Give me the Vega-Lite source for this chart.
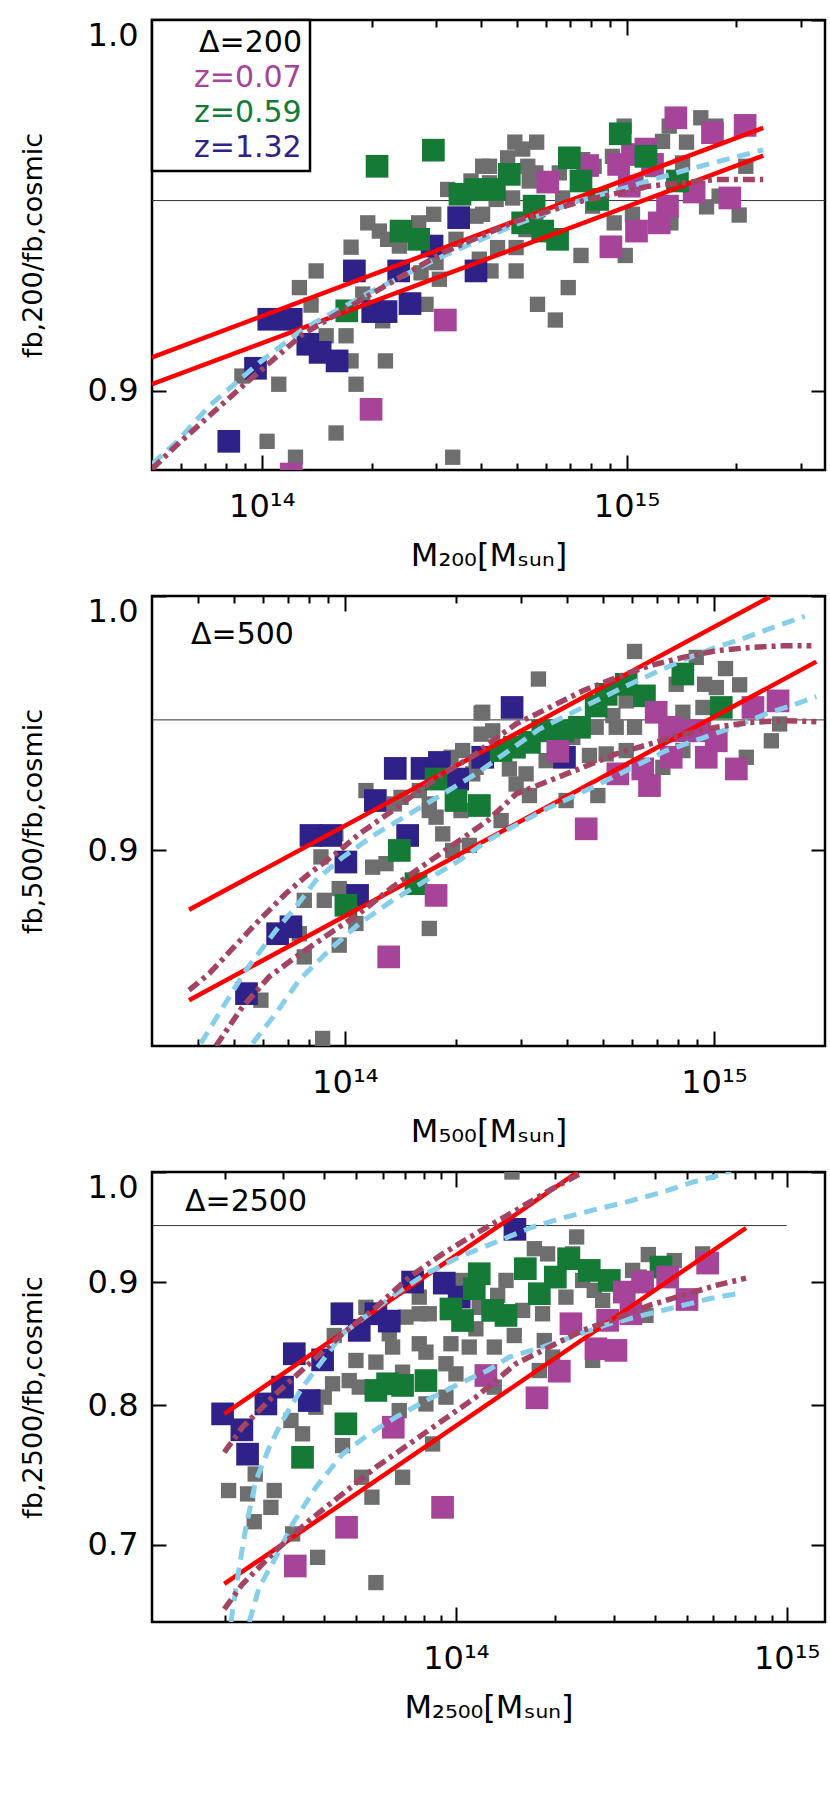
{
  "$schema": "https://vega.github.io/schema/vega-lite/v6.json",
  "background": "white",
  "padding": {"left": 17, "top": 17, "right": 2, "bottom": 2},
  "bounds": "flush",
  "spacing": 126,
  "resolve": {"scale": {"color": "independent"}, "legend": {"color": "independent"}},
  "config": {
    "view": {"stroke": "black", "strokeWidth": 2.5},
    "font": "DejaVu Sans",
    "legend": {"strokeWidth": 2.5},
    "axis": {"grid": false, "domain": false, "tickColor": "black", "tickWidth": 2, "labelColor": "black", "titleColor": "black", "labelFont": "DejaVu Sans", "titleFont": "DejaVu Sans", "titleFontWeight": "normal", "labelFontSize": 32, "titleFontSize": 32, "labelOverlap": false}
  },
  "datasets": {
    "p1": [
      {"M":1.757e14,"f":0.9375,"g":"sim"},{"M":1.409e14,"f":0.9312,"g":"sim"},{"M":1.268e14,"f":0.9268,"g":"sim"},{"M":1.365e14,"f":0.9222,"g":"sim"},{"M":1.113e14,"f":0.9017,"g":"sim"},{"M":8.82e13,"f":0.9038,"g":"sim"},{"M":1.034e14,"f":0.8872,"g":"sim"},{"M":1.237e14,"f":0.8832,"g":"sim"},{"M":1.598e14,"f":0.8893,"g":"sim"},{"M":1.813e14,"f":0.9017,"g":"sim"},{"M":2.182e14,"f":0.9077,"g":"sim"},{"M":1.757e14,"f":0.9077,"g":"sim"},{"M":1.501e14,"f":0.9142,"g":"sim"},{"M":1.702e14,"f":0.9142,"g":"sim"},{"M":1.952e14,"f":0.944,"g":"sim"},{"M":2.101e14,"f":0.9418,"g":"sim"},{"M":2.214e14,"f":0.9396,"g":"sim"},{"M":2.383e14,"f":0.9378,"g":"sim"},{"M":2.692e14,"f":0.944,"g":"sim"},{"M":2.96e14,"f":0.9463,"g":"sim"},{"M":3.233e14,"f":0.953,"g":"sim"},{"M":3.746e14,"f":0.9553,"g":"sim"},{"M":4.032e14,"f":0.9593,"g":"sim"},{"M":3.866e14,"f":0.9458,"g":"sim"},{"M":3.337e14,"f":0.8832,"g":"sim"},{"M":2.82e14,"f":0.9224,"g":"sim"},{"M":2.145e14,"f":0.9181,"g":"sim"},{"M":1.891e14,"f":0.9251,"g":"sim"},{"M":2.733e14,"f":0.9307,"g":"sim"},{"M":3.004e14,"f":0.9334,"g":"sim"},{"M":3.068e14,"f":0.929,"g":"sim"},{"M":3.407e14,"f":0.9396,"g":"sim"},{"M":3.948e14,"f":0.9343,"g":"sim"},
      {"M":4.94e14,"f":0.9659,"g":"sim"},{"M":5.67e14,"f":0.9659,"g":"sim"},{"M":5.19e14,"f":0.964,"g":"sim"},{"M":4.72e14,"f":0.9616,"g":"sim"},{"M":4.21e14,"f":0.9593,"g":"sim"},{"M":5.36e14,"f":0.9593,"g":"sim"},{"M":5.64e14,"f":0.9575,"g":"sim"},{"M":5.41e14,"f":0.9553,"g":"sim"},{"M":4.21e14,"f":0.9548,"g":"sim"},{"M":4.87e14,"f":0.9507,"g":"sim"},{"M":4.39e14,"f":0.9503,"g":"sim"},{"M":4.03e14,"f":0.9463,"g":"sim"},{"M":6.54e14,"f":0.9575,"g":"sim"},{"M":7.58e14,"f":0.9611,"g":"sim"},{"M":8.15e14,"f":0.9593,"g":"sim"},{"M":9.85e14,"f":0.9703,"g":"sim"},{"M":9.15e14,"f":0.962,"g":"sim"},{"M":1.255e15,"f":0.9661,"g":"sim"},{"M":1.309e15,"f":0.9703,"g":"sim"},{"M":1.46e15,"f":0.9659,"g":"sim"},{"M":1.598e15,"f":0.9726,"g":"sim"},{"M":1.757e15,"f":0.9703,"g":"sim"},{"M":1.178e15,"f":0.9584,"g":"sim"},{"M":1.424e15,"f":0.9602,"g":"sim"},{"M":1.061e15,"f":0.9548,"g":"sim"},{"M":1.657e15,"f":0.9483,"g":"sim"},{"M":2.036e15,"f":0.9461,"g":"sim"},{"M":2.123e15,"f":0.9593,"g":"sim"},{"M":1.794e15,"f":0.9512,"g":"sim"},{"M":9.25e14,"f":0.944,"g":"sim"},{"M":1.038e15,"f":0.9463,"g":"sim"},{"M":1.323e15,"f":0.944,"g":"sim"},{"M":9.92e14,"f":0.9353,"g":"sim"},{"M":7.5e14,"f":0.9353,"g":"sim"},{"M":4.43e14,"f":0.9374,"g":"sim"},{"M":4.98e14,"f":0.9374,"g":"sim"},{"M":4.25e14,"f":0.9312,"g":"sim"},{"M":4.98e14,"f":0.9312,"g":"sim"},{"M":6.92e14,"f":0.9268,"g":"sim"},{"M":5.7e14,"f":0.9224,"g":"sim"},{"M":6.38e14,"f":0.9183,"g":"sim"},{"M":8.07e14,"f":0.9485,"g":"sim"},{"M":6.68e14,"f":0.9507,"g":"sim"},{"M":5.3e14,"f":0.9422,"g":"sim"},{"M":5.64e14,"f":0.9449,"g":"sim"},
      {"M":1.045e14,"f":0.9185,"g":"z=1.32"},{"M":1.204e14,"f":0.9185,"g":"z=1.32"},{"M":9.61e13,"f":0.9058,"g":"z=1.32"},{"M":8.12e13,"f":0.8872,"g":"z=1.32"},{"M":1.337e14,"f":0.912,"g":"z=1.32"},{"M":1.445e14,"f":0.9099,"g":"z=1.32"},{"M":1.608e14,"f":0.9077,"g":"z=1.32"},{"M":1.794e14,"f":0.9312,"g":"z=1.32"},{"M":2.014e14,"f":0.9205,"g":"z=1.32"},{"M":2.191e14,"f":0.9205,"g":"z=1.32"},{"M":2.549e14,"f":0.9226,"g":"z=1.32"},{"M":2.373e14,"f":0.9312,"g":"z=1.32"},{"M":2.929e14,"f":0.9378,"g":"z=1.32"},{"M":3.465e14,"f":0.9454,"g":"z=1.32"},{"M":3.866e14,"f":0.9312,"g":"z=1.32"},
      {"M":3.186e14,"f":0.9183,"g":"z=0.07"},{"M":1.993e14,"f":0.8953,"g":"z=0.07"},{"M":1.204e14,"f":0.879,"g":"z=0.07"},{"M":1.365e15,"f":0.9726,"g":"z=0.07"},{"M":1.72e15,"f":0.9685,"g":"z=0.07"},{"M":2.114e15,"f":0.9705,"g":"z=0.07"},{"M":6.08e14,"f":0.955,"g":"z=0.07"},{"M":7.82e14,"f":0.9595,"g":"z=0.07"},{"M":9.51e14,"f":0.9598,"g":"z=0.07"},{"M":1.038e15,"f":0.9625,"g":"z=0.07"},{"M":1.13e15,"f":0.964,"g":"z=0.07"},{"M":1.178e15,"f":0.9598,"g":"z=0.07"},{"M":1.017e15,"f":0.9539,"g":"z=0.07"},{"M":1.532e15,"f":0.9523,"g":"z=0.07"},{"M":1.919e15,"f":0.9507,"g":"z=0.07"},{"M":1.295e15,"f":0.9485,"g":"z=0.07"},{"M":1.229e15,"f":0.944,"g":"z=0.07"},{"M":1.065e15,"f":0.9418,"g":"z=0.07"},{"M":9.06e14,"f":0.9376,"g":"z=0.07"},
      {"M":2.07e14,"f":0.9593,"g":"z=0.59"},{"M":2.954e14,"f":0.9637,"g":"z=0.59"},{"M":3.494e14,"f":0.9517,"g":"z=0.59"},{"M":3.866e14,"f":0.953,"g":"z=0.59"},{"M":2.408e14,"f":0.9418,"g":"z=0.59"},{"M":2.692e14,"f":0.9396,"g":"z=0.59"},{"M":1.71e14,"f":0.9207,"g":"z=0.59"},{"M":4.77e14,"f":0.9571,"g":"z=0.59"},{"M":4.34e14,"f":0.953,"g":"z=0.59"},{"M":6.97e14,"f":0.9616,"g":"z=0.59"},{"M":7.5e14,"f":0.9553,"g":"z=0.59"},{"M":9.61e14,"f":0.9682,"g":"z=0.59"},{"M":5.58e14,"f":0.9485,"g":"z=0.59"},{"M":5.19e14,"f":0.944,"g":"z=0.59"},{"M":5.89e14,"f":0.9418,"g":"z=0.59"},{"M":6.47e14,"f":0.9396,"g":"z=0.59"},{"M":8.33e14,"f":0.9503,"g":"z=0.59"},{"M":1.379e15,"f":0.9553,"g":"z=0.59"},{"M":1.13e15,"f":0.962,"g":"z=0.59"}
    ],
    "l1": [
      {"M":5.0e13,"f":0.9086,"k":"r","c":"a"},{"M":2.37e15,"f":0.9698,"k":"r","c":"a"},
      {"M":5.0e13,"f":0.9017,"k":"r","c":"b"},{"M":2.37e15,"f":0.9622,"k":"r","c":"b"},
      {"M":5.0e13,"f":0.8815,"k":"b","c":"a"},{"M":5.82e13,"f":0.8869,"k":"b","c":"a"},{"M":7.19e13,"f":0.8962,"k":"b","c":"a"},{"M":9.86e13,"f":0.9073,"k":"b","c":"a"},{"M":1.295e14,"f":0.9159,"k":"b","c":"a"},{"M":1.972e14,"f":0.9255,"k":"b","c":"a"},{"M":3.13e14,"f":0.9351,"k":"b","c":"a"},{"M":4.98e14,"f":0.9436,"k":"b","c":"a"},{"M":7.11e14,"f":0.9494,"k":"b","c":"a"},{"M":9.95e14,"f":0.9535,"k":"b","c":"a"},{"M":1.42e15,"f":0.958,"k":"b","c":"a"},{"M":2.37e15,"f":0.9638,"k":"b","c":"a"},
      {"M":5.0e13,"f":0.8802,"k":"d","c":"a"},{"M":5.82e13,"f":0.8861,"k":"d","c":"a"},{"M":8.87e13,"f":0.9013,"k":"d","c":"a"},{"M":1.295e14,"f":0.9146,"k":"d","c":"a"},{"M":2.06e14,"f":0.9259,"k":"d","c":"a"},{"M":3.13e14,"f":0.936,"k":"d","c":"a"},{"M":4.98e14,"f":0.9445,"k":"d","c":"a"},{"M":7.57e14,"f":0.9499,"k":"d","c":"a"},{"M":1.153e15,"f":0.9539,"k":"d","c":"a"},{"M":1.76e15,"f":0.9557,"k":"d","c":"a"},{"M":2.37e15,"f":0.9557,"k":"d","c":"a"}
    ],
    "p2": [
      {"M":1.369e14,"f":0.9311,"g":"z=1.32"},{"M":1.618e14,"f":0.9311,"g":"z=1.32"},{"M":1.803e14,"f":0.9334,"g":"z=1.32"},{"M":2.021e14,"f":0.927,"g":"z=1.32"},{"M":1.209e14,"f":0.9188,"g":"z=1.32"},{"M":8.09e13,"f":0.9056,"g":"z=1.32"},{"M":9.16e13,"f":0.9056,"g":"z=1.32"},{"M":1.006e14,"f":0.8957,"g":"z=1.32"},{"M":1.479e14,"f":0.9056,"g":"z=1.32"},{"M":1.082e14,"f":0.8834,"g":"z=1.32"},{"M":7.14e13,"f":0.872,"g":"z=1.32"},{"M":6.57e13,"f":0.8695,"g":"z=1.32"},{"M":5.41e13,"f":0.8482,"g":"z=1.32"},{"M":2.363e14,"f":0.9354,"g":"z=1.32"},{"M":2.838e14,"f":0.9549,"g":"z=1.32"},{"M":3.935e14,"f":0.9354,"g":"z=1.32"},
      {"M":1.766e14,"f":0.927,"g":"z=0.59"},{"M":2.0e14,"f":0.9188,"g":"z=0.59"},{"M":2.314e14,"f":0.9169,"g":"z=0.59"},{"M":1.404e14,"f":0.9,"g":"z=0.59"},{"M":1.558e14,"f":0.8877,"g":"z=0.59"},{"M":1.006e14,"f":0.8798,"g":"z=0.59"},{"M":8.238e14,"f":0.9682,"g":"z=0.59"},{"M":6.482e14,"f":0.9595,"g":"z=0.59"},{"M":5.784e14,"f":0.9641,"g":"z=0.59"},{"M":5.105e14,"f":0.9601,"g":"z=0.59"},{"M":4.796e14,"f":0.9555,"g":"z=0.59"},{"M":4.321e14,"f":0.9471,"g":"z=0.59"},{"M":3.894e14,"f":0.9457,"g":"z=0.59"},{"M":3.437e14,"f":0.9457,"g":"z=0.59"},{"M":3.162e14,"f":0.9412,"g":"z=0.59"},{"M":2.88e14,"f":0.9393,"g":"z=0.59"},{"M":2.65e14,"f":0.938,"g":"z=0.59"},{"M":1.047e15,"f":0.9549,"g":"z=0.59"},
      {"M":1.766e14,"f":0.8834,"g":"z=0.07"},{"M":1.314e14,"f":0.8612,"g":"z=0.07"},{"M":3.775e14,"f":0.9377,"g":"z=0.07"},{"M":6.974e14,"f":0.953,"g":"z=0.07"},{"M":7.58e14,"f":0.9471,"g":"z=0.07"},{"M":8.238e14,"f":0.9457,"g":"z=0.07"},{"M":9.145e14,"f":0.9457,"g":"z=0.07"},{"M":1.015e15,"f":0.9418,"g":"z=0.07"},{"M":1.276e15,"f":0.9549,"g":"z=0.07"},{"M":1.492e15,"f":0.9575,"g":"z=0.07"},{"M":7.659e14,"f":0.9354,"g":"z=0.07"},{"M":9.533e14,"f":0.9354,"g":"z=0.07"},{"M":1.15e15,"f":0.9309,"g":"z=0.07"},{"M":5.491e14,"f":0.929,"g":"z=0.07"},{"M":6.415e14,"f":0.9309,"g":"z=0.07"},{"M":6.689e14,"f":0.9245,"g":"z=0.07"},{"M":4.506e14,"f":0.9081,"g":"z=0.07"},
      {"M":2.339e14,"f":0.9527,"g":"sim"},{"M":2.339e14,"f":0.9444,"g":"sim"},{"M":2.085e14,"f":0.938,"g":"sim"},{"M":1.14e14,"f":0.9226,"g":"sim"},{"M":1.189e14,"f":0.9175,"g":"sim"},{"M":1.361e14,"f":0.9175,"g":"sim"},{"M":1.419e14,"f":0.92,"g":"sim"},{"M":1.591e14,"f":0.9226,"g":"sim"},{"M":1.693e14,"f":0.9175,"g":"sim"},{"M":1.766e14,"f":0.9125,"g":"sim"},{"M":1.693e14,"f":0.915,"g":"sim"},{"M":2.063e14,"f":0.915,"g":"sim"},{"M":1.841e14,"f":0.9062,"g":"sim"},{"M":1.959e14,"f":0.9,"g":"sim"},{"M":2.174e14,"f":0.9019,"g":"sim"},{"M":1.189e14,"f":0.8938,"g":"sim"},{"M":1.292e14,"f":0.8951,"g":"sim"},{"M":8.61e13,"f":0.8976,"g":"sim"},{"M":9.45e13,"f":0.9062,"g":"sim"},{"M":9.65e13,"f":0.8859,"g":"sim"},{"M":8.79e13,"f":0.8816,"g":"sim"},{"M":7.76e13,"f":0.8816,"g":"sim"},{"M":7.52e13,"f":0.8695,"g":"sim"},{"M":1.071e14,"f":0.8732,"g":"sim"},{"M":9.65e13,"f":0.8654,"g":"sim"},{"M":7.76e13,"f":0.8612,"g":"sim"},{"M":5.92e13,"f":0.8459,"g":"sim"},{"M":8.7e13,"f":0.8326,"g":"sim"},{"M":1.693e14,"f":0.8714,"g":"sim"},{"M":2.267e14,"f":0.9315,"g":"sim"},{"M":2.22e14,"f":0.929,"g":"sim"},{"M":1.939e14,"f":0.9354,"g":"sim"},
      {"M":6.093e14,"f":0.9773,"g":"sim"},{"M":3.345e14,"f":0.9662,"g":"sim"},{"M":1.075e15,"f":0.9704,"g":"sim"},{"M":1.174e15,"f":0.9639,"g":"sim"},{"M":8.956e14,"f":0.9749,"g":"sim"},{"M":7.902e14,"f":0.9641,"g":"sim"},{"M":9.434e14,"f":0.9641,"g":"sim"},{"M":1.015e15,"f":0.9628,"g":"sim"},{"M":9.337e14,"f":0.9549,"g":"sim"},{"M":8.238e14,"f":0.953,"g":"sim"},{"M":5.784e14,"f":0.9575,"g":"sim"},{"M":5.322e14,"f":0.9517,"g":"sim"},{"M":5.435e14,"f":0.9471,"g":"sim"},{"M":6.093e14,"f":0.9471,"g":"sim"},{"M":4.796e14,"f":0.9471,"g":"sim"},{"M":4.145e14,"f":0.9431,"g":"sim"},{"M":2.363e14,"f":0.953,"g":"sim"},{"M":2.515e14,"f":0.9457,"g":"sim"},{"M":1.507e15,"f":0.9484,"g":"sim"},{"M":1.431e15,"f":0.9418,"g":"sim"},{"M":1.224e15,"f":0.9354,"g":"sim"},{"M":8.238e14,"f":0.938,"g":"sim"},{"M":7.271e14,"f":0.9315,"g":"sim"},{"M":3.097e14,"f":0.929,"g":"sim"},{"M":2.791e14,"f":0.9309,"g":"sim"},{"M":2.91e14,"f":0.9251,"g":"sim"},{"M":3.162e14,"f":0.9207,"g":"sim"},{"M":3.976e14,"f":0.9188,"g":"sim"},{"M":4.846e14,"f":0.9207,"g":"sim"},{"M":2.65e14,"f":0.9112,"g":"sim"},{"M":3.51e14,"f":0.9341,"g":"sim"},{"M":4.6e14,"f":0.9361,"g":"sim"},{"M":5.105e14,"f":0.9367,"g":"sim"},{"M":5.784e14,"f":0.938,"g":"sim"}
    ],
    "l2": [
      {"M":3.78e13,"f":0.8782,"k":"r","c":"a"},{"M":1.416e15,"f":0.9996,"k":"r","c":"a"},
      {"M":3.78e13,"f":0.8459,"k":"r","c":"b"},{"M":1.895e15,"f":0.9732,"k":"r","c":"b"},
      {"M":4.07e13,"f":0.8309,"k":"b","c":"a"},{"M":4.56e13,"f":0.8413,"k":"b","c":"a"},{"M":5.39e13,"f":0.8565,"k":"b","c":"a"},{"M":6.5e13,"f":0.8707,"k":"b","c":"a"},{"M":7.36e13,"f":0.8792,"k":"b","c":"a"},{"M":8.34e13,"f":0.8889,"k":"b","c":"a"},{"M":9.86e13,"f":0.8975,"k":"b","c":"a"},{"M":1.214e14,"f":0.9062,"k":"b","c":"a"},{"M":1.495e14,"f":0.9137,"k":"b","c":"a"},{"M":1.841e14,"f":0.9213,"k":"b","c":"a"},{"M":2.267e14,"f":0.929,"k":"b","c":"a"},{"M":3.366e14,"f":0.9464,"k":"b","c":"a"},{"M":4.506e14,"f":0.9556,"k":"b","c":"a"},{"M":5.665e14,"f":0.9628,"k":"b","c":"a"},{"M":7.271e14,"f":0.9702,"k":"b","c":"a"},{"M":8.59e14,"f":0.9749,"k":"b","c":"a"},{"M":1.015e15,"f":0.979,"k":"b","c":"a"},{"M":1.199e15,"f":0.9825,"k":"b","c":"a"},{"M":1.416e15,"f":0.9866,"k":"b","c":"a"},{"M":1.762e15,"f":0.9916,"k":"b","c":"a"},
      {"M":5.62e13,"f":0.8309,"k":"b","c":"b"},{"M":6.5e13,"f":0.8413,"k":"b","c":"b"},{"M":7.52e13,"f":0.853,"k":"b","c":"b"},{"M":9.07e13,"f":0.8636,"k":"b","c":"b"},{"M":1.094e14,"f":0.8732,"k":"b","c":"b"},{"M":1.347e14,"f":0.8816,"k":"b","c":"b"},{"M":1.658e14,"f":0.8889,"k":"b","c":"b"},{"M":2.042e14,"f":0.8963,"k":"b","c":"b"},{"M":2.438e14,"f":0.9037,"k":"b","c":"b"},{"M":2.622e14,"f":0.9062,"k":"b","c":"b"},{"M":3.584e14,"f":0.9162,"k":"b","c":"b"},{"M":4.697e14,"f":0.9239,"k":"b","c":"b"},{"M":6.03e14,"f":0.9315,"k":"b","c":"b"},{"M":7.424e14,"f":0.938,"k":"b","c":"b"},{"M":9.145e14,"f":0.9425,"k":"b","c":"b"},{"M":1.126e15,"f":0.9471,"k":"b","c":"b"},{"M":1.387e15,"f":0.9524,"k":"b","c":"b"},{"M":1.638e15,"f":0.9558,"k":"b","c":"b"},{"M":1.895e15,"f":0.9592,"k":"b","c":"b"},
      {"M":3.78e13,"f":0.8494,"k":"d","c":"a"},{"M":4.29e13,"f":0.8553,"k":"d","c":"a"},{"M":5.06e13,"f":0.8654,"k":"d","c":"a"},{"M":5.86e13,"f":0.8744,"k":"d","c":"a"},{"M":6.92e13,"f":0.8841,"k":"d","c":"a"},{"M":8.0e13,"f":0.8914,"k":"d","c":"a"},{"M":9.45e13,"f":0.8988,"k":"d","c":"a"},{"M":1.094e14,"f":0.9062,"k":"d","c":"a"},{"M":1.347e14,"f":0.915,"k":"d","c":"a"},{"M":1.591e14,"f":0.9226,"k":"d","c":"a"},{"M":1.841e14,"f":0.929,"k":"d","c":"a"},{"M":2.267e14,"f":0.9367,"k":"d","c":"a"},{"M":2.438e14,"f":0.9405,"k":"d","c":"a"},{"M":2.91e14,"f":0.9484,"k":"d","c":"a"},{"M":3.584e14,"f":0.9549,"k":"d","c":"a"},{"M":4.413e14,"f":0.9615,"k":"d","c":"a"},{"M":5.435e14,"f":0.9668,"k":"d","c":"a"},{"M":6.689e14,"f":0.9715,"k":"d","c":"a"},{"M":8.238e14,"f":0.9749,"k":"d","c":"a"},{"M":1.015e15,"f":0.9776,"k":"d","c":"a"},{"M":1.25e15,"f":0.9789,"k":"d","c":"a"},{"M":1.539e15,"f":0.9796,"k":"d","c":"a"},{"M":1.837e15,"f":0.9796,"k":"d","c":"a"},
      {"M":4.47e13,"f":0.83,"k":"d","c":"b"},{"M":5.28e13,"f":0.8436,"k":"d","c":"b"},{"M":6.23e13,"f":0.8541,"k":"d","c":"b"},{"M":7.36e13,"f":0.8612,"k":"d","c":"b"},{"M":9.07e13,"f":0.8695,"k":"d","c":"b"},{"M":1.094e14,"f":0.8768,"k":"d","c":"b"},{"M":1.347e14,"f":0.8865,"k":"d","c":"b"},{"M":1.658e14,"f":0.8951,"k":"d","c":"b"},{"M":2.042e14,"f":0.9037,"k":"d","c":"b"},{"M":2.438e14,"f":0.9112,"k":"d","c":"b"},{"M":2.91e14,"f":0.9213,"k":"d","c":"b"},{"M":3.584e14,"f":0.9264,"k":"d","c":"b"},{"M":4.413e14,"f":0.9315,"k":"d","c":"b"},{"M":5.435e14,"f":0.9367,"k":"d","c":"b"},{"M":6.689e14,"f":0.9405,"k":"d","c":"b"},{"M":8.238e14,"f":0.9444,"k":"d","c":"b"},{"M":1.015e15,"f":0.9471,"k":"d","c":"b"},{"M":1.25e15,"f":0.949,"k":"d","c":"b"},{"M":1.539e15,"f":0.9497,"k":"d","c":"b"},{"M":1.895e15,"f":0.9493,"k":"d","c":"b"}
    ],
    "p3": [
      {"M":2.054e13,"f":0.7372,"g":"sim"},{"M":2.344e13,"f":0.7348,"g":"sim"},{"M":2.822e13,"f":0.7372,"g":"sim"},{"M":2.757e13,"f":0.7254,"g":"sim"},{"M":2.455e13,"f":0.7155,"g":"sim"},{"M":2.472e13,"f":0.7489,"g":"sim"},{"M":3.17e13,"f":0.7883,"g":"sim"},{"M":3.437e13,"f":0.7783,"g":"sim"},{"M":3.207e13,"f":0.7072,"g":"sim"},{"M":3.817e13,"f":0.6915,"g":"sim"},{"M":5.728e13,"f":0.675,"g":"sim"},{"M":5.571e13,"f":0.7325,"g":"sim"},{"M":5.184e13,"f":0.7466,"g":"sim"},{"M":6.897e13,"f":0.7466,"g":"sim"},{"M":4.542e13,"f":0.7696,"g":"sim"},{"M":8.5e13,"f":0.7708,"g":"sim"},{"M":6.739e13,"f":0.7958,"g":"sim"},{"M":8.115e13,"f":0.8009,"g":"sim"},{"M":9.328e13,"f":0.8061,"g":"sim"},{"M":4.236e13,"f":0.8165,"g":"sim"},{"M":4.757e13,"f":0.819,"g":"sim"},{"M":5.101e13,"f":0.8139,"g":"sim"},{"M":4.984e13,"f":0.8349,"g":"sim"},{"M":5.728e13,"f":0.8336,"g":"sim"},{"M":6.434e13,"f":0.8457,"g":"sim"},{"M":4.286e13,"f":0.8551,"g":"sim"},{"M":3.998e13,"f":0.8061,"g":"sim"},{"M":7.746e13,"f":0.8484,"g":"sim"},{"M":8.115e13,"f":0.8416,"g":"sim"},{"M":9.658e13,"f":0.8484,"g":"sim"},{"M":1.097e14,"f":0.8457,"g":"sim"},{"M":9.328e13,"f":0.8323,"g":"sim"},{"M":1.0e14,"f":0.8243,"g":"sim"},{"M":7.06e13,"f":0.8703,"g":"sim"},{"M":7.746e13,"f":0.8731,"g":"sim"},{"M":8.305e13,"f":0.8731,"g":"sim"},{"M":7.746e13,"f":0.8871,"g":"sim"},{"M":1.047e14,"f":0.9014,"g":"sim"},{"M":1.149e14,"f":0.8606,"g":"sim"},{"M":1.176e14,"f":0.8785,"g":"sim"},{"M":3.772e13,"f":0.7984,"g":"sim"},{"M":6.897e13,"f":0.8256,"g":"sim"},{"M":5.343e13,"f":0.8785,"g":"sim"},{"M":6.286e13,"f":0.8565,"g":"sim"},
      {"M":1.477e14,"f":1.0,"g":"sim"},{"M":2.317e14,"f":0.9397,"g":"sim"},{"M":3.817e14,"f":0.924,"g":"sim"},{"M":4.573e14,"f":0.9187,"g":"sim"},{"M":5.571e14,"f":0.9246,"g":"sim"},{"M":1.726e14,"f":0.9292,"g":"sim"},{"M":1.893e14,"f":0.9246,"g":"sim"},{"M":2.253e14,"f":0.9246,"g":"sim"},{"M":1.417e14,"f":0.9014,"g":"sim"},{"M":1.337e14,"f":0.8886,"g":"sim"},{"M":1.591e14,"f":0.8759,"g":"sim"},{"M":1.828e14,"f":0.8731,"g":"sim"},{"M":2.151e14,"f":0.8871,"g":"sim"},{"M":2.416e14,"f":0.9014,"g":"sim"},{"M":2.62e14,"f":0.8929,"g":"sim"},{"M":2.777e14,"f":0.8843,"g":"sim"},{"M":3.585e14,"f":0.9043,"g":"sim"},{"M":3.421e14,"f":0.9101,"g":"sim"},{"M":3.755e14,"f":0.8717,"g":"sim"},{"M":1.85e14,"f":0.851,"g":"sim"},{"M":1.306e14,"f":0.8457,"g":"sim"},{"M":1.501e14,"f":0.8551,"g":"sim"},{"M":2.59e14,"f":0.835,"g":"sim"},{"M":1.787e14,"f":0.8269,"g":"sim"},{"M":1.961e14,"f":0.8376,"g":"sim"},{"M":1.306e14,"f":0.8139,"g":"sim"},
      {"M":1.97e13,"f":0.7933,"g":"z=1.32"},{"M":2.253e13,"f":0.7813,"g":"z=1.32"},{"M":2.344e13,"f":0.7633,"g":"z=1.32"},{"M":2.663e13,"f":0.8009,"g":"z=1.32"},{"M":2.99e13,"f":0.8139,"g":"z=1.32"},{"M":3.245e13,"f":0.8403,"g":"z=1.32"},{"M":3.601e13,"f":0.8035,"g":"z=1.32"},{"M":3.952e13,"f":0.8354,"g":"z=1.32"},{"M":4.52e13,"f":0.8731,"g":"z=1.32"},{"M":5.101e13,"f":0.8593,"g":"z=1.32"},{"M":5.728e13,"f":0.8731,"g":"z=1.32"},{"M":6.286e13,"f":0.867,"g":"z=1.32"},{"M":7.396e13,"f":0.9,"g":"z=1.32"},{"M":9.219e13,"f":0.8991,"g":"z=1.32"},{"M":1.023e14,"f":0.8871,"g":"z=1.32"},{"M":1.508e14,"f":0.9466,"g":"z=1.32"},
      {"M":3.437e13,"f":0.761,"g":"z=0.59"},{"M":4.648e13,"f":0.7858,"g":"z=0.59"},{"M":5.728e13,"f":0.8113,"g":"z=0.59"},{"M":6.213e13,"f":0.8165,"g":"z=0.59"},{"M":6.897e13,"f":0.8152,"g":"z=0.59"},{"M":8.115e13,"f":0.819,"g":"z=0.59"},{"M":9.658e13,"f":0.8771,"g":"z=0.59"},{"M":1.047e14,"f":0.8675,"g":"z=0.59"},{"M":1.136e14,"f":0.8943,"g":"z=0.59"},{"M":1.176e14,"f":0.9072,"g":"z=0.59"},{"M":1.621e14,"f":0.9116,"g":"z=0.59"},{"M":1.998e14,"f":0.9043,"g":"z=0.59"},{"M":2.191e14,"f":0.9203,"g":"z=0.59"},{"M":2.53e14,"f":0.9101,"g":"z=0.59"},{"M":2.909e14,"f":0.9014,"g":"z=0.59"},{"M":4.169e14,"f":0.913,"g":"z=0.59"},{"M":1.787e14,"f":0.89,"g":"z=0.59"},{"M":1.417e14,"f":0.8717,"g":"z=0.59"},{"M":1.291e14,"f":0.8759,"g":"z=0.59"},
      {"M":3.267e13,"f":0.6858,"g":"z=0.07"},{"M":4.67e13,"f":0.7117,"g":"z=0.07"},{"M":6.464e13,"f":0.7832,"g":"z=0.07"},{"M":9.113e13,"f":0.7254,"g":"z=0.07"},{"M":1.232e14,"f":0.823,"g":"z=0.07"},{"M":5.768e14,"f":0.9165,"g":"z=0.07"},{"M":4.996e14,"f":0.8851,"g":"z=0.07"},{"M":4.366e14,"f":0.9043,"g":"z=0.07"},{"M":3.669e14,"f":0.9,"g":"z=0.07"},{"M":3.228e14,"f":0.8914,"g":"z=0.07"},{"M":3.382e14,"f":0.8731,"g":"z=0.07"},{"M":2.875e14,"f":0.8676,"g":"z=0.07"},{"M":2.227e14,"f":0.8648,"g":"z=0.07"},{"M":2.651e14,"f":0.8443,"g":"z=0.07"},{"M":3.047e14,"f":0.843,"g":"z=0.07"},{"M":2.054e14,"f":0.8264,"g":"z=0.07"},{"M":1.758e14,"f":0.8056,"g":"z=0.07"}
    ],
    "l3": [
      {"M":1.993e13,"f":0.7933,"k":"r","c":"a"},{"M":2.334e14,"f":1.0,"k":"r","c":"a"},
      {"M":1.993e13,"f":0.6741,"k":"r","c":"b"},{"M":7.534e14,"f":0.9478,"k":"r","c":"b"},
      {"M":2.087e13,"f":0.65,"k":"b","c":"a"},{"M":2.212e13,"f":0.6849,"k":"b","c":"a"},{"M":2.317e13,"f":0.7117,"k":"b","c":"a"},{"M":2.484e13,"f":0.7442,"k":"b","c":"a"},{"M":2.726e13,"f":0.7683,"k":"b","c":"a"},{"M":2.99e13,"f":0.7883,"k":"b","c":"a"},{"M":3.437e13,"f":0.8139,"k":"b","c":"a"},{"M":3.952e13,"f":0.8349,"k":"b","c":"a"},{"M":4.542e13,"f":0.8565,"k":"b","c":"a"},{"M":5.468e13,"f":0.8731,"k":"b","c":"a"},{"M":6.586e13,"f":0.89,"k":"b","c":"a"},{"M":8.115e13,"f":0.9072,"k":"b","c":"a"},{"M":1.023e14,"f":0.9218,"k":"b","c":"a"},{"M":1.247e14,"f":0.9322,"k":"b","c":"a"},{"M":1.706e14,"f":0.9487,"k":"b","c":"a"},{"M":2.151e14,"f":0.9578,"k":"b","c":"a"},{"M":2.59e14,"f":0.9641,"k":"b","c":"a"},{"M":3.266e14,"f":0.9716,"k":"b","c":"a"},{"M":4.217e14,"f":0.9809,"k":"b","c":"a"},{"M":5.196e14,"f":0.9904,"k":"b","c":"a"},{"M":6.405e14,"f":0.9978,"k":"b","c":"a"},{"M":6.87e14,"f":1.003,"k":"b","c":"a"},
      {"M":2.371e13,"f":0.65,"k":"b","c":"b"},{"M":2.542e13,"f":0.672,"k":"b","c":"b"},{"M":2.855e13,"f":0.6916,"k":"b","c":"b"},{"M":3.207e13,"f":0.714,"k":"b","c":"b"},{"M":3.772e13,"f":0.7395,"k":"b","c":"b"},{"M":4.542e13,"f":0.7634,"k":"b","c":"b"},{"M":5.468e13,"f":0.7783,"k":"b","c":"b"},{"M":6.586e13,"f":0.7908,"k":"b","c":"b"},{"M":8.115e13,"f":0.8035,"k":"b","c":"b"},{"M":1.023e14,"f":0.8165,"k":"b","c":"b"},{"M":1.247e14,"f":0.827,"k":"b","c":"b"},{"M":1.45e14,"f":0.8376,"k":"b","c":"b"},{"M":1.828e14,"f":0.8457,"k":"b","c":"b"},{"M":2.306e14,"f":0.8551,"k":"b","c":"b"},{"M":2.909e14,"f":0.8648,"k":"b","c":"b"},{"M":3.669e14,"f":0.8717,"k":"b","c":"b"},{"M":4.627e14,"f":0.8787,"k":"b","c":"b"},{"M":5.835e14,"f":0.8857,"k":"b","c":"b"},{"M":7.193e14,"f":0.8905,"k":"b","c":"b"},
      {"M":1.993e13,"f":0.7646,"k":"d","c":"a"},{"M":2.263e13,"f":0.7833,"k":"d","c":"a"},{"M":2.855e13,"f":0.8087,"k":"d","c":"a"},{"M":3.601e13,"f":0.8323,"k":"d","c":"a"},{"M":4.542e13,"f":0.8565,"k":"d","c":"a"},{"M":5.728e13,"f":0.8785,"k":"d","c":"a"},{"M":7.226e13,"f":0.9043,"k":"d","c":"a"},{"M":9.113e13,"f":0.9246,"k":"d","c":"a"},{"M":1.149e14,"f":0.9427,"k":"d","c":"a"},{"M":1.518e14,"f":0.964,"k":"d","c":"a"},{"M":1.916e14,"f":0.9826,"k":"d","c":"a"},{"M":2.416e14,"f":0.9996,"k":"d","c":"a"},
      {"M":1.993e13,"f":0.658,"k":"d","c":"b"},{"M":2.263e13,"f":0.6741,"k":"d","c":"b"},{"M":2.855e13,"f":0.696,"k":"d","c":"b"},{"M":3.601e13,"f":0.7163,"k":"d","c":"b"},{"M":4.542e13,"f":0.7348,"k":"d","c":"b"},{"M":5.728e13,"f":0.7538,"k":"d","c":"b"},{"M":7.226e13,"f":0.7708,"k":"d","c":"b"},{"M":9.113e13,"f":0.7883,"k":"d","c":"b"},{"M":1.149e14,"f":0.8061,"k":"d","c":"b"},{"M":1.518e14,"f":0.8323,"k":"d","c":"b"},{"M":1.916e14,"f":0.8457,"k":"d","c":"b"},{"M":2.416e14,"f":0.8593,"k":"d","c":"b"},{"M":3.047e14,"f":0.869,"k":"d","c":"b"},{"M":3.843e14,"f":0.8801,"k":"d","c":"b"},{"M":4.848e14,"f":0.8886,"k":"d","c":"b"},{"M":6.114e14,"f":0.8971,"k":"d","c":"b"},{"M":7.534e14,"f":0.9034,"k":"d","c":"b"}
    ]
  },
  "vconcat": [
    {
      "width": 673, "height": 450,
      "resolve": {"axis": {"x": "independent", "y": "independent"}},
      "layer": [
        {"data": {"values": [{}]}, "mark": {"type": "rule", "color": "#333333", "strokeWidth": 1},
         "encoding": {"y": {"datum": 0.95, "type": "quantitative", "scale": {"type": "log", "domain": [0.88, 1.0]}, "axis": null}}},
        {"data": {"name": "p1"}, "transform": [{"filter": "datum.g == 'sim'"}],
         "mark": {"type": "square", "size": 235, "color": "#6E6E6E", "opacity": 1, "clip": true},
         "encoding": {
           "x": {"field": "M", "type": "quantitative", "scale": {"type": "log", "domain": [5e13, 3.5e15]},
             "axis": {"orient": "bottom", "values": [6e13,7e13,8e13,9e13,1e14,2e14,3e14,4e14,5e14,6e14,7e14,8e14,9e14,1e15,2e15,3e15], "labelExpr": "datum.value == 1e14 ? '10¹⁴' : datum.value == 1e15 ? '10¹⁵' : ''", "tickSize": {"condition": {"test": "datum.value == 1e14 || datum.value == 1e15", "value": -15}, "value": -7}, "labelPadding": 36, "title": "M₂₀₀[Mₛᵤₙ]", "titlePadding": 10}},
           "y": {"field": "f", "type": "quantitative", "scale": {"type": "log", "domain": [0.88, 1.0]},
             "axis": {"orient": "left", "values": [0.9, 1.0], "labelExpr": "format(datum.value, '.1f')", "tickSize": -14, "labelPadding": 28, "labelFlush": true, "labelFlushOffset": 0, "title": "fb,200/fb,cosmic", "titleFontSize": 27, "titlePadding": 40}}
         }},
        {"data": {"name": "p1"}, "transform": [{"filter": "datum.g != 'sim'"}],
         "mark": {"type": "square", "size": 515, "opacity": 1, "clip": true},
         "encoding": {
           "x": {"field": "M", "type": "quantitative", "scale": {"type": "log", "domain": [5e13, 3.5e15]},
             "axis": {"orient": "top", "values": [6e13,7e13,8e13,9e13,1e14,2e14,3e14,4e14,5e14,6e14,7e14,8e14,9e14,1e15,2e15,3e15], "labels": false, "title": null, "tickSize": {"condition": {"test": "datum.value == 1e14 || datum.value == 1e15", "value": -15}, "value": -7}}},
           "y": {"field": "f", "type": "quantitative", "scale": {"type": "log", "domain": [0.88, 1.0]},
             "axis": {"orient": "right", "values": [0.9, 1.0], "labels": false, "title": null, "tickSize": -14}},
           "color": {"field": "g", "type": "nominal", "scale": {"domain": ["z=0.07", "z=0.59", "z=1.32"], "range": ["#A6449A", "#157A36", "#2E2188"]},
             "legend": {"title": "Δ=200", "orient": "top-left", "offset": 0, "padding": 8, "strokeColor": "black", "fillColor": "white", "titleFontSize": 30, "titleFontWeight": "normal", "titleColor": "black", "titleAnchor": "end", "titlePadding": 5, "labelFontSize": 30, "labelFont": "DejaVu Sans", "titleFont": "DejaVu Sans", "symbolOpacity": 0, "symbolSize": 300, "symbolStrokeWidth": 0, "rowPadding": 5, "labelColor": {"expr": "datum.label == 'z=0.07' ? '#A6449A' : datum.label == 'z=0.59' ? '#157A36' : '#2E2188'"}}}
         }},
        {"data": {"name": "l1"}, "transform": [{"filter": "datum.k == 'r'"}],
         "mark": {"type": "line", "color": "#FF0000", "strokeWidth": 4.5, "clip": true},
         "encoding": {"x": {"field": "M", "type": "quantitative", "scale": {"type": "log", "domain": [5e13, 3.5e15]}, "axis": null}, "y": {"field": "f", "type": "quantitative", "scale": {"type": "log", "domain": [0.88, 1.0]}, "axis": null}, "detail": {"field": "c"}}},
        {"data": {"name": "l1"}, "transform": [{"filter": "datum.k == 'b'"}],
         "mark": {"type": "line", "color": "#87CEEB", "strokeWidth": 5, "strokeDash": [13, 8], "clip": true},
         "encoding": {"x": {"field": "M", "type": "quantitative", "scale": {"type": "log", "domain": [5e13, 3.5e15]}, "axis": null}, "y": {"field": "f", "type": "quantitative", "scale": {"type": "log", "domain": [0.88, 1.0]}, "axis": null}, "detail": {"field": "c"}}},
        {"data": {"name": "l1"}, "transform": [{"filter": "datum.k == 'd'"}],
         "mark": {"type": "line", "color": "#A44463", "strokeWidth": 5.5, "strokeDash": [12, 5, 4, 5], "clip": true},
         "encoding": {"x": {"field": "M", "type": "quantitative", "scale": {"type": "log", "domain": [5e13, 3.5e15]}, "axis": null}, "y": {"field": "f", "type": "quantitative", "scale": {"type": "log", "domain": [0.88, 1.0]}, "axis": null}, "detail": {"field": "c"}}}
      ]
    },
    {
      "width": 673, "height": 450,
      "title": {"text": "Δ=500", "anchor": "start", "frame": "group", "orient": "top", "offset": 0, "dx": 39, "dy": 79, "baseline": "alphabetic", "fontSize": 30, "fontWeight": "normal", "font": "DejaVu Sans", "color": "black"},
      "resolve": {"axis": {"x": "independent", "y": "independent"}},
      "layer": [
        {"data": {"values": [{}]}, "mark": {"type": "rule", "color": "#333333", "strokeWidth": 1},
         "encoding": {"y": {"datum": 0.95, "type": "quantitative", "scale": {"type": "log", "domain": [0.83, 1.0]}, "axis": null}}},
        {"data": {"name": "p2"}, "transform": [{"filter": "datum.g == 'sim'"}],
         "mark": {"type": "square", "size": 235, "color": "#6E6E6E", "opacity": 1, "clip": true},
         "encoding": {
           "x": {"field": "M", "type": "quantitative", "scale": {"type": "log", "domain": [3e13, 2e15]},
             "axis": {"orient": "bottom", "values": [4e13,5e13,6e13,7e13,8e13,9e13,1e14,2e14,3e14,4e14,5e14,6e14,7e14,8e14,9e14,1e15], "labelExpr": "datum.value == 1e14 ? '10¹⁴' : datum.value == 1e15 ? '10¹⁵' : ''", "tickSize": {"condition": {"test": "datum.value == 1e14 || datum.value == 1e15", "value": -15}, "value": -7}, "labelPadding": 36, "title": "M₅₀₀[Mₛᵤₙ]", "titlePadding": 10}},
           "y": {"field": "f", "type": "quantitative", "scale": {"type": "log", "domain": [0.83, 1.0]},
             "axis": {"orient": "left", "values": [0.9, 1.0], "labelExpr": "format(datum.value, '.1f')", "tickSize": -14, "labelPadding": 28, "labelFlush": true, "labelFlushOffset": 0, "title": "fb,500/fb,cosmic", "titleFontSize": 27, "titlePadding": 40}}
         }},
        {"data": {"name": "p2"}, "transform": [{"filter": "datum.g != 'sim'"}],
         "mark": {"type": "square", "size": 515, "opacity": 1, "clip": true},
         "encoding": {
           "x": {"field": "M", "type": "quantitative", "scale": {"type": "log", "domain": [3e13, 2e15]},
             "axis": {"orient": "top", "values": [4e13,5e13,6e13,7e13,8e13,9e13,1e14,2e14,3e14,4e14,5e14,6e14,7e14,8e14,9e14,1e15], "labels": false, "title": null, "tickSize": {"condition": {"test": "datum.value == 1e14 || datum.value == 1e15", "value": -15}, "value": -7}}},
           "y": {"field": "f", "type": "quantitative", "scale": {"type": "log", "domain": [0.83, 1.0]},
             "axis": {"orient": "right", "values": [0.9, 1.0], "labels": false, "title": null, "tickSize": -14}},
           "color": {"field": "g", "type": "nominal", "scale": {"domain": ["z=0.07", "z=0.59", "z=1.32"], "range": ["#A6449A", "#157A36", "#2E2188"]}, "legend": null}
         }},
        {"data": {"name": "l2"}, "transform": [{"filter": "datum.k == 'r'"}],
         "mark": {"type": "line", "color": "#FF0000", "strokeWidth": 4.5, "clip": true},
         "encoding": {"x": {"field": "M", "type": "quantitative", "scale": {"type": "log", "domain": [3e13, 2e15]}, "axis": null}, "y": {"field": "f", "type": "quantitative", "scale": {"type": "log", "domain": [0.83, 1.0]}, "axis": null}, "detail": {"field": "c"}}},
        {"data": {"name": "l2"}, "transform": [{"filter": "datum.k == 'b'"}],
         "mark": {"type": "line", "color": "#87CEEB", "strokeWidth": 5, "strokeDash": [13, 8], "clip": true},
         "encoding": {"x": {"field": "M", "type": "quantitative", "scale": {"type": "log", "domain": [3e13, 2e15]}, "axis": null}, "y": {"field": "f", "type": "quantitative", "scale": {"type": "log", "domain": [0.83, 1.0]}, "axis": null}, "detail": {"field": "c"}}},
        {"data": {"name": "l2"}, "transform": [{"filter": "datum.k == 'd'"}],
         "mark": {"type": "line", "color": "#A44463", "strokeWidth": 5.5, "strokeDash": [12, 5, 4, 5], "clip": true},
         "encoding": {"x": {"field": "M", "type": "quantitative", "scale": {"type": "log", "domain": [3e13, 2e15]}, "axis": null}, "y": {"field": "f", "type": "quantitative", "scale": {"type": "log", "domain": [0.83, 1.0]}, "axis": null}, "detail": {"field": "c"}}}
      ]
    },
    {
      "width": 673, "height": 450,
      "title": {"text": "Δ=2500", "anchor": "start", "frame": "group", "orient": "top", "offset": 0, "dx": 33, "dy": 70, "baseline": "alphabetic", "fontSize": 30, "fontWeight": "normal", "font": "DejaVu Sans", "color": "black"},
      "resolve": {"axis": {"x": "independent", "y": "independent"}},
      "layer": [
        {"data": {"values": [{}]}, "mark": {"type": "rule", "color": "#333333", "strokeWidth": 1},
         "encoding": {"x": {"datum": 1.21e13, "type": "quantitative", "scale": {"type": "log", "domain": [1.205e13, 1.306e15]}, "axis": null}, "x2": {"datum": 1e15}, "y": {"datum": 0.95, "type": "quantitative", "scale": {"type": "log", "domain": [0.65, 1.0]}, "axis": null}}},
        {"data": {"name": "p3"}, "transform": [{"filter": "datum.g == 'sim'"}],
         "mark": {"type": "square", "size": 235, "color": "#6E6E6E", "opacity": 1, "clip": true},
         "encoding": {
           "x": {"field": "M", "type": "quantitative", "scale": {"type": "log", "domain": [1.205e13, 1.306e15]},
             "axis": {"orient": "bottom", "values": [2e13,3e13,4e13,5e13,6e13,7e13,8e13,9e13,1e14,2e14,3e14,4e14,5e14,6e14,7e14,8e14,9e14,1e15], "labelExpr": "datum.value == 1e14 ? '10¹⁴' : datum.value == 1e15 ? '10¹⁵' : ''", "tickSize": {"condition": {"test": "datum.value == 1e14 || datum.value == 1e15", "value": -15}, "value": -7}, "labelPadding": 36, "title": "M₂₅₀₀[Mₛᵤₙ]", "titlePadding": 10}},
           "y": {"field": "f", "type": "quantitative", "scale": {"type": "log", "domain": [0.65, 1.0]},
             "axis": {"orient": "left", "values": [0.7, 0.8, 0.9, 1.0], "labelExpr": "format(datum.value, '.1f')", "tickSize": -14, "labelPadding": 28, "labelFlush": true, "labelFlushOffset": 0, "title": "fb,2500/fb,cosmic", "titleFontSize": 27, "titlePadding": 40}}
         }},
        {"data": {"name": "p3"}, "transform": [{"filter": "datum.g != 'sim'"}],
         "mark": {"type": "square", "size": 515, "opacity": 1, "clip": true},
         "encoding": {
           "x": {"field": "M", "type": "quantitative", "scale": {"type": "log", "domain": [1.205e13, 1.306e15]},
             "axis": {"orient": "top", "values": [2e13,3e13,4e13,5e13,6e13,7e13,8e13,9e13,1e14,2e14,3e14,4e14,5e14,6e14,7e14,8e14,9e14,1e15], "labels": false, "title": null, "tickSize": {"condition": {"test": "datum.value == 1e14 || datum.value == 1e15", "value": -15}, "value": -7}}},
           "y": {"field": "f", "type": "quantitative", "scale": {"type": "log", "domain": [0.65, 1.0]},
             "axis": {"orient": "right", "values": [0.7, 0.8, 0.9, 1.0], "labels": false, "title": null, "tickSize": -14}},
           "color": {"field": "g", "type": "nominal", "scale": {"domain": ["z=0.07", "z=0.59", "z=1.32"], "range": ["#A6449A", "#157A36", "#2E2188"]}, "legend": null}
         }},
        {"data": {"name": "l3"}, "transform": [{"filter": "datum.k == 'r'"}],
         "mark": {"type": "line", "color": "#FF0000", "strokeWidth": 4.5, "clip": true},
         "encoding": {"x": {"field": "M", "type": "quantitative", "scale": {"type": "log", "domain": [1.205e13, 1.306e15]}, "axis": null}, "y": {"field": "f", "type": "quantitative", "scale": {"type": "log", "domain": [0.65, 1.0]}, "axis": null}, "detail": {"field": "c"}}},
        {"data": {"name": "l3"}, "transform": [{"filter": "datum.k == 'b'"}],
         "mark": {"type": "line", "color": "#87CEEB", "strokeWidth": 5, "strokeDash": [13, 8], "clip": true},
         "encoding": {"x": {"field": "M", "type": "quantitative", "scale": {"type": "log", "domain": [1.205e13, 1.306e15]}, "axis": null}, "y": {"field": "f", "type": "quantitative", "scale": {"type": "log", "domain": [0.65, 1.0]}, "axis": null}, "detail": {"field": "c"}}},
        {"data": {"name": "l3"}, "transform": [{"filter": "datum.k == 'd'"}],
         "mark": {"type": "line", "color": "#A44463", "strokeWidth": 5.5, "strokeDash": [12, 5, 4, 5], "clip": true},
         "encoding": {"x": {"field": "M", "type": "quantitative", "scale": {"type": "log", "domain": [1.205e13, 1.306e15]}, "axis": null}, "y": {"field": "f", "type": "quantitative", "scale": {"type": "log", "domain": [0.65, 1.0]}, "axis": null}, "detail": {"field": "c"}}}
      ]
    }
  ]
}
